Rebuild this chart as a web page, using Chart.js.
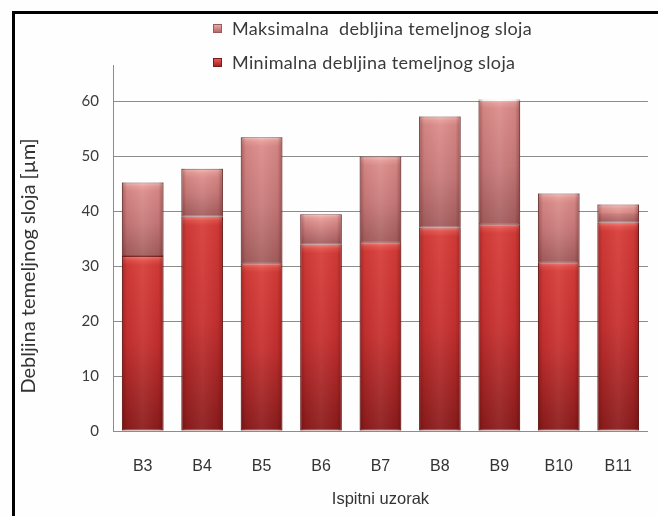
<!DOCTYPE html>
<html>
<head>
<meta charset="utf-8">
<script src="https://cdn.jsdelivr.net/npm/chart.js@4/dist/chart.umd.min.js"></script>
<style>
  html, body { margin: 0; padding: 0; background: #ffffff; }
  #wrap { position: relative; width: 658px; height: 516px; overflow: hidden; background: #fefefe; }
  #frame { position: absolute; left: 12px; top: 11px; width: 700px; height: 600px;
           border-left: 3px solid #000; border-top: 3px solid #000; box-sizing: border-box; pointer-events: none; }
  #c { position: absolute; left: 0; top: 0; }
  .leg { position: absolute; left: 213px; font-family: Lato, "Open Sans", sans-serif; font-size: 18px;
         letter-spacing: 0.35px; color: #3a3a3a; white-space: pre; line-height: 20px; }
  .leg .sw { position: absolute; left: 0; top: 6px; width: 9px; height: 9px; box-sizing: border-box; }
  .leg .tx { position: absolute; left: 19px; top: 0; }
</style>
</head>
<body>
<div id="wrap">
  <canvas id="c" width="658" height="516"></canvas>
  <div class="leg" id="leg1" style="top:18px;"><span class="sw" style="background:linear-gradient(#eaa8a8,#b46a6a);border:1px solid #9a5a5a;"></span><span class="tx">Maksimalna  debljina temeljnog sloja</span></div>
  <div class="leg" id="leg2" style="top:52px;"><span class="sw" style="background:linear-gradient(#ec5a5a,#a02424);border:1px solid #7a1c1c;"></span><span class="tx">Minimalna debljina temeljnog sloja</span></div>
  <div id="frame"></div>
</div>
<script>
const categories = ['B3', 'B4', 'B5', 'B6', 'B7', 'B8', 'B9', 'B10', 'B11'];
const minThickness = [31.8, 39.0, 30.5, 33.9, 34.3, 37.0, 37.6, 30.7, 37.9];
const maxThickness = [45.2, 47.7, 53.4, 39.4, 49.9, 57.2, 60.3, 43.2, 41.2];
const yTicks = [0, 10, 20, 30, 40, 50, 60];
const seriesNames = ['Minimalna debljina temeljnog sloja', 'Maksimalna debljina temeljnog sloja'];
const xTitle = 'Ispitni uzorak';
const yTitle = 'Debljina temeljnog sloja [µm]';

const extraThickness = maxThickness.map((v, i) => +(v - minThickness[i]).toFixed(2));

function vertGrad(ctx, stops, topVal, botVal) {
  const chart = ctx.chart;
  const y = chart.scales && chart.scales.y;
  if (!chart.chartArea || !y) return stops[1][1];
  const yt = y.getPixelForValue(topVal);
  const yb = y.getPixelForValue(botVal);
  if (!isFinite(yt) || !isFinite(yb) || yt === yb) return stops[1][1];
  const g = chart.ctx.createLinearGradient(0, yt, 0, yb);
  const h = yb - yt;
  stops.forEach(([p, c]) => {
    let pos = p;
    if (p < 0) pos = Math.min(0.45, (-p) / h);
    g.addColorStop(pos, c);
  });
  return g;
}

const minStops = [[0, '#f47c74'], [-4, '#e2504a'], [-9, '#d63c38'], [0.5, '#c63030'], [1, '#8a1c1c']];
const maxStops = [[0, '#f6bcb8'], [-4, '#e69c98'], [-9, '#da8c8a'], [0.55, '#c87a7a'], [1, '#a45e5e']];

const sheen = {
  id: 'sheen',
  afterDatasetsDraw(chart) {
    const ctx = chart.ctx;
    chart.data.datasets.forEach((ds, di) => {
      const meta = chart.getDatasetMeta(di);
      meta.data.forEach(bar => {
        const p = bar.getProps(['x', 'y', 'base', 'width'], true);
        const l = p.x - p.width / 2, r = p.x + p.width / 2;
        const t = Math.min(p.y, p.base), b = Math.max(p.y, p.base);
        const g = ctx.createLinearGradient(l, 0, r, 0);
        g.addColorStop(0, 'rgba(60,0,0,0.32)');
        g.addColorStop(0.12, 'rgba(60,0,0,0.06)');
        g.addColorStop(0.5, 'rgba(255,255,255,0.06)');
        g.addColorStop(0.88, 'rgba(60,0,0,0.06)');
        g.addColorStop(1, 'rgba(60,0,0,0.34)');
        ctx.save();
        ctx.fillStyle = g;
        ctx.fillRect(l, t, r - l, b - t);
        ctx.restore();
      });
    });
  }
};

// the value axis line continues a little above the top gridline, as in the reference
const axisExtension = {
  id: 'axisExtension',
  afterDraw(chart) {
    const y = chart.scales.y;
    const ctx = chart.ctx;
    const x = Math.round(y.right) + 0.5;
    ctx.save();
    ctx.strokeStyle = '#8c8c8c';
    ctx.lineWidth = 1;
    ctx.beginPath();
    ctx.moveTo(x, chart.chartArea.top - 36);
    ctx.lineTo(x, chart.chartArea.top);
    ctx.stroke();
    ctx.restore();
  }
};

new Chart(document.getElementById('c'), {
  type: 'bar',
  data: {
    labels: categories,
    datasets: [
      {
        label: seriesNames[0],
        data: minThickness,
        backgroundColor: ctx => vertGrad(ctx, minStops, minThickness[ctx.dataIndex] ?? 0, 0),
        borderColor: '#7e2424',
        borderWidth: 1,
        borderSkipped: false,
        barPercentage: 0.7,
        categoryPercentage: 1.0
      },
      {
        label: seriesNames[1],
        data: extraThickness,
        backgroundColor: ctx => vertGrad(ctx, maxStops, maxThickness[ctx.dataIndex] ?? 0, minThickness[ctx.dataIndex] ?? 0),
        borderColor: '#8a5050',
        borderWidth: 1,
        borderSkipped: false,
        barPercentage: 0.7,
        categoryPercentage: 1.0
      }
    ]
  },
  options: {
    responsive: false,
    animation: false,
    devicePixelRatio: 1,
    layout: { padding: { top: 101, right: 3, left: 0, bottom: 0 } },
    plugins: { legend: { display: false }, tooltip: { enabled: false } },
    scales: {
      x: {
        stacked: true,
        grid: { display: false, drawTicks: false },
        border: { display: true, color: '#8c8c8c', width: 1 },
        ticks: { color: '#333', font: { family: '"Liberation Sans", Arial, sans-serif', size: 16 }, padding: 26 },
        title: { display: true, text: xTitle, color: '#333', font: { family: '"Liberation Sans", Arial, sans-serif', size: 16.5 }, padding: { top: 0, bottom: 7 } },
        afterFit: s => { s.height = 85; }
      },
      y: {
        stacked: true,
        min: 0,
        max: 60,
        afterBuildTicks: s => { s.ticks = yTicks.map(v => ({ value: v })); },
        grid: { color: '#8c8c8c', lineWidth: 1, drawTicks: false },
        border: { display: true, color: '#8c8c8c', width: 1 },
        ticks: { color: '#3a3a3a', font: { family: 'Lato, "Open Sans", sans-serif', size: 15 }, padding: 14 },
        title: { display: true, text: yTitle, color: '#333', font: { family: 'Lato, "Open Sans", sans-serif', size: 20 }, padding: { top: 17, bottom: 0 } },
        afterFit: s => { s.width = 113; }
      }
    }
  },
  plugins: [sheen, axisExtension]
});
</script>
</body>
</html>
